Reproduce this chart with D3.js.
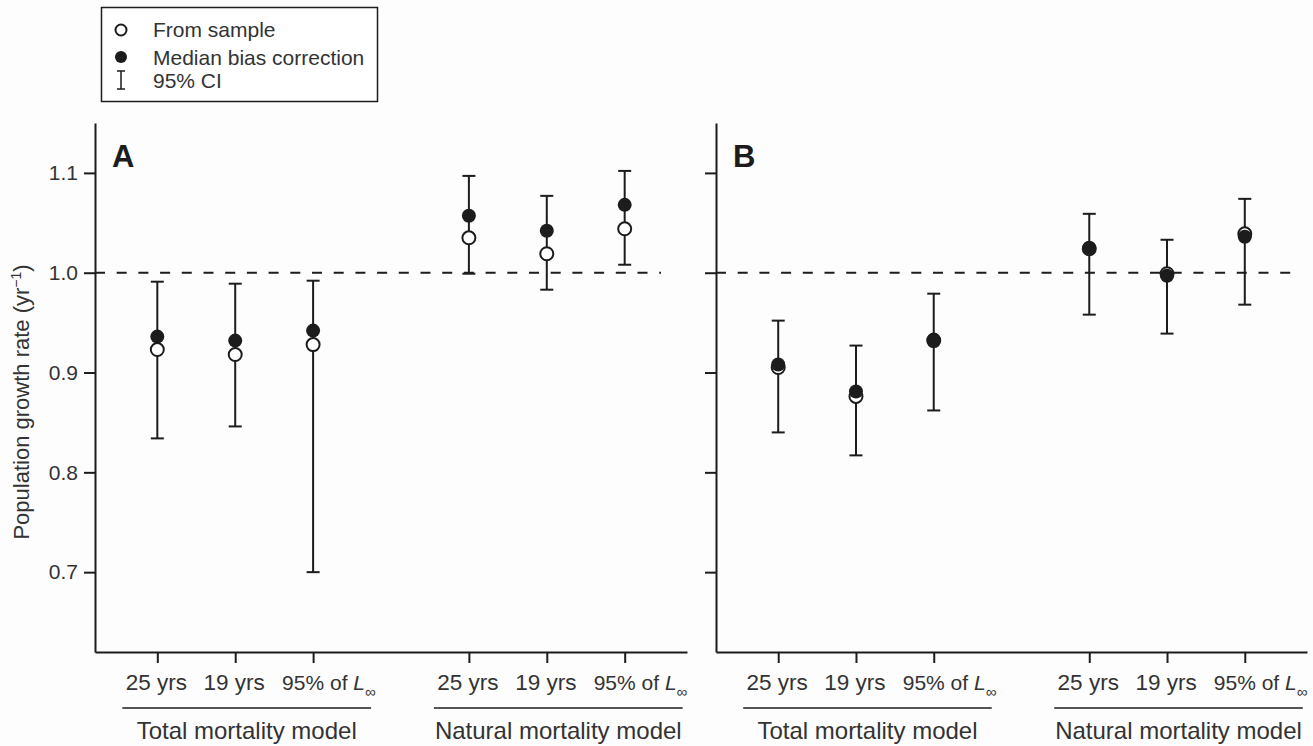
<!DOCTYPE html>
<html>
<head>
<meta charset="utf-8">
<script src="https://cdn.jsdelivr.net/npm/d3@7"></script>
<style>
  body { margin: 0; background: #fdfdfd; }
  svg { display: block; font-family: "Liberation Sans", Arial, Helvetica, sans-serif; }
</style>
</head>
<body>
<svg id="chart" width="1313" height="746"></svg>
<script>
// ── Data ───────────────────────────────────────────────────────
const groups = ['Total mortality model', 'Natural mortality model'];
const categories = ['25 yrs', '19 yrs', '95% of L', '25 yrs', '19 yrs', '95% of L'];
const slots = [0, 1, 2, 4, 5, 6];          // gap between the two models
const yTicks = [0.7, 0.8, 0.9, 1.0, 1.1];

// Panel A
const sampleA = [0.923, 0.918, 0.928, 1.035, 1.019, 1.044];
const biasA   = [0.936, 0.932, 0.942, 1.057, 1.042, 1.068];
const lowA    = [0.834, 0.846, 0.700, 0.999, 0.983, 1.008];
const highA   = [0.991, 0.989, 0.992, 1.097, 1.077, 1.102];

// Panel B
const sampleB = [0.905, 0.876, 0.932, 1.024, 0.999, 1.039];
const biasB   = [0.908, 0.881, 0.933, 1.025, 0.997, 1.036];
const lowB    = [0.840, 0.817, 0.862, 0.958, 0.939, 0.968];
const highB   = [0.952, 0.927, 0.979, 1.059, 1.033, 1.074];

const INK = '#1c1c1c';
const svg = d3.select('#chart');

const y = d3.scaleLinear().domain([0.62, 1.15]).range([652, 123]);

const panels = [
  { letter: 'A', x0: 95,  x1: 687,  dashEnd: 661,  labels: true,
    sample: sampleA, bias: biasA, low: lowA, high: highA },
  { letter: 'B', x0: 716, x1: 1307, dashEnd: 1298, labels: false,
    sample: sampleB, bias: biasB, low: lowB, high: highB }
];

panels.forEach(p => {
  const x = d3.scaleLinear().domain([-0.8, 6.8]).range([p.x0, p.x1]);
  const g = svg.append('g');

  // ── Axes ──────────────────────────────────────────────
  const yAxis = g.append('g')
    .attr('transform', `translate(${p.x0},0)`)
    .call(d3.axisLeft(y).tickValues(yTicks).tickSize(11).tickSizeOuter(0)
      .tickFormat(p.labels ? d3.format('.1f') : () => ''));
  yAxis.select('.domain').attr('stroke', INK).attr('stroke-width', 2);
  yAxis.selectAll('.tick line').attr('stroke', INK).attr('stroke-width', 2);
  yAxis.selectAll('.tick text')
    .attr('x', -17).attr('font-size', 21).attr('fill', '#333')
    .attr('font-family', null);

  const xAxis = g.append('g')
    .attr('transform', 'translate(0,652)')
    .call(d3.axisBottom(x).tickValues(slots).tickSize(11).tickSizeOuter(0)
      .tickFormat(''));
  xAxis.select('.domain').attr('stroke', INK).attr('stroke-width', 2);
  xAxis.selectAll('.tick line').attr('stroke', INK).attr('stroke-width', 2);

  // category labels (with italic L and subscript ∞)
  slots.forEach((s, i) => {
    const c = categories[i];
    const isL = c.endsWith('L');
    const t = g.append('text')
      .attr('x', isL ? x(s) - 31 : x(s) - 1).attr('y', 690)
      .attr('text-anchor', isL ? 'start' : 'middle')
      .attr('font-size', isL ? 21 : 22.5).attr('fill', '#333');
    if (isL) {
      t.append('tspan').text(c.slice(0, -1));
      t.append('tspan').attr('font-style', 'italic').text('L');
      t.append('tspan').attr('font-size', 15).attr('dy', 7).text('∞');
    } else {
      t.text(c);
    }
  });

  // group underline + label
  groups.forEach((name, gi) => {
    const first = x(slots[gi * 3]), last = x(slots[gi * 3 + 2]);
    g.append('line')
      .attr('x1', first - 35).attr('x2', last + 58)
      .attr('y1', 708).attr('y2', 708)
      .attr('stroke', INK).attr('stroke-width', 1.6);
    g.append('text')
      .attr('x', (first - 35 + last + 58) / 2).attr('y', 739)
      .attr('text-anchor', 'middle')
      .attr('font-size', 24).attr('fill', '#333')
      .text(name);
  });

  // ── Reference line at 1.0 ─────────────────────────────
  g.append('line')
    .attr('x1', p.x0).attr('x2', p.dashEnd)
    .attr('y1', y(1)).attr('y2', y(1))
    .attr('stroke', INK).attr('stroke-width', 2)
    .attr('stroke-dasharray', '10 11.7');

  // ── Error bars ────────────────────────────────────────
  const bars = g.selectAll('.ci').data(slots).join('g').attr('class', 'ci');
  bars.append('line')
    .attr('x1', d => x(d)).attr('x2', d => x(d))
    .attr('y1', (d, i) => y(p.low[i])).attr('y2', (d, i) => y(p.high[i]));
  ['low', 'high'].forEach(k => {
    bars.append('line')
      .attr('x1', d => x(d) - 6.5).attr('x2', d => x(d) + 6.5)
      .attr('y1', (d, i) => y(p[k][i])).attr('y2', (d, i) => y(p[k][i]));
  });
  bars.selectAll('line').attr('stroke', INK).attr('stroke-width', 2);

  // ── Points: open = from sample, filled = median bias correction ──
  g.selectAll('.open').data(slots).join('circle')
    .attr('class', 'open')
    .attr('cx', d => x(d)).attr('cy', (d, i) => y(p.sample[i]))
    .attr('r', 6.5)
    .attr('fill', '#fff').attr('stroke', INK).attr('stroke-width', 2);

  g.selectAll('.filled').data(slots).join('circle')
    .attr('class', 'filled')
    .attr('cx', d => x(d)).attr('cy', (d, i) => y(p.bias[i]))
    .attr('r', 7)
    .attr('fill', INK);

  // panel letter
  g.append('text')
    .attr('x', p.x0 + 17).attr('y', 167)
    .attr('font-size', 31).attr('font-weight', 'bold').attr('fill', INK)
    .text(p.letter);
});

// ── Y axis title ──────────────────────────────────────────────
const yTitle = svg.append('text')
  .attr('transform', 'translate(29,402) rotate(-90)')
  .attr('text-anchor', 'middle')
  .attr('font-size', 22).attr('fill', '#333');
yTitle.append('tspan').text('Population growth rate (yr');
yTitle.append('tspan').attr('font-size', 14).attr('dy', -8).text('−1');
yTitle.append('tspan').attr('dy', 8).text(')');

// ── Legend ────────────────────────────────────────────────────
const legend = svg.append('g');
legend.append('rect')
  .attr('x', 101.5).attr('y', 7.5).attr('width', 276).attr('height', 94)
  .attr('fill', '#fff').attr('stroke', INK).attr('stroke-width', 1.5);

legend.append('circle').attr('cx', 121).attr('cy', 30).attr('r', 5.5)
  .attr('fill', '#fff').attr('stroke', INK).attr('stroke-width', 2);
legend.append('circle').attr('cx', 121).attr('cy', 57).attr('r', 6)
  .attr('fill', INK);
legend.append('path')
  .attr('d', 'M117,71H125M121,71V89M117,89H125')
  .attr('fill', 'none').attr('stroke', INK).attr('stroke-width', 1.5);

const legendText = ['From sample', 'Median bias correction', '95% CI'];
const legendY = [37, 64.5, 87.5];
legend.selectAll('.lt').data(legendText).join('text')
  .attr('class', 'lt')
  .attr('x', 153).attr('y', (d, i) => legendY[i])
  .attr('font-size', 21).attr('fill', '#333')
  .text(d => d);
</script>
</body>
</html>
